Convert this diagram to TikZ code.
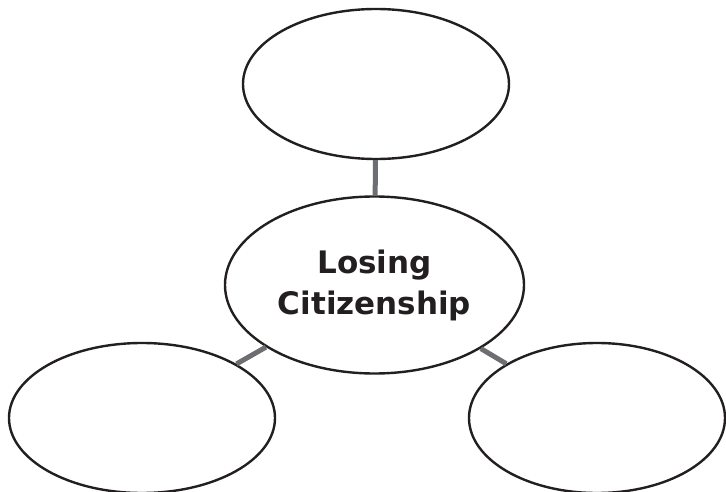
\documentclass[tikz,border=0pt]{standalone}
\usepackage{fontspec}
\setmainfont{DejaVu Sans}
\usetikzlibrary{shapes.geometric}
\definecolor{inkc}{HTML}{231F20}
\definecolor{linkc}{HTML}{6D6E71}
\tikzset{
  bubble/.style={ellipse, draw=inkc, line width=2.4pt, fill=white, inner sep=0pt},
  link/.style={draw=linkc, line width=5pt}
}
\begin{document}
\begin{tikzpicture}[x=1pt,y=-1pt]
\useasboundingbox (0,0) rectangle (726,492);
\node[bubble, minimum width=266pt, minimum height=150pt] (top) at (376,84) {};
\node[bubble, minimum width=299pt, minimum height=177pt, text=inkc, font=\bfseries\fontsize{31}{41}\selectfont, align=center] (mid) at (374.5,285) {Losing\\Citizenship};
\node[bubble, minimum width=266pt, minimum height=150pt] (left) at (142,418) {};
\node[bubble, minimum width=256pt, minimum height=150pt] (right) at (597,418) {};
\draw[link] (top) -- (mid);
\draw[link] (mid) -- (left);
\draw[link] (mid) -- (right);
\end{tikzpicture}
\end{document}
